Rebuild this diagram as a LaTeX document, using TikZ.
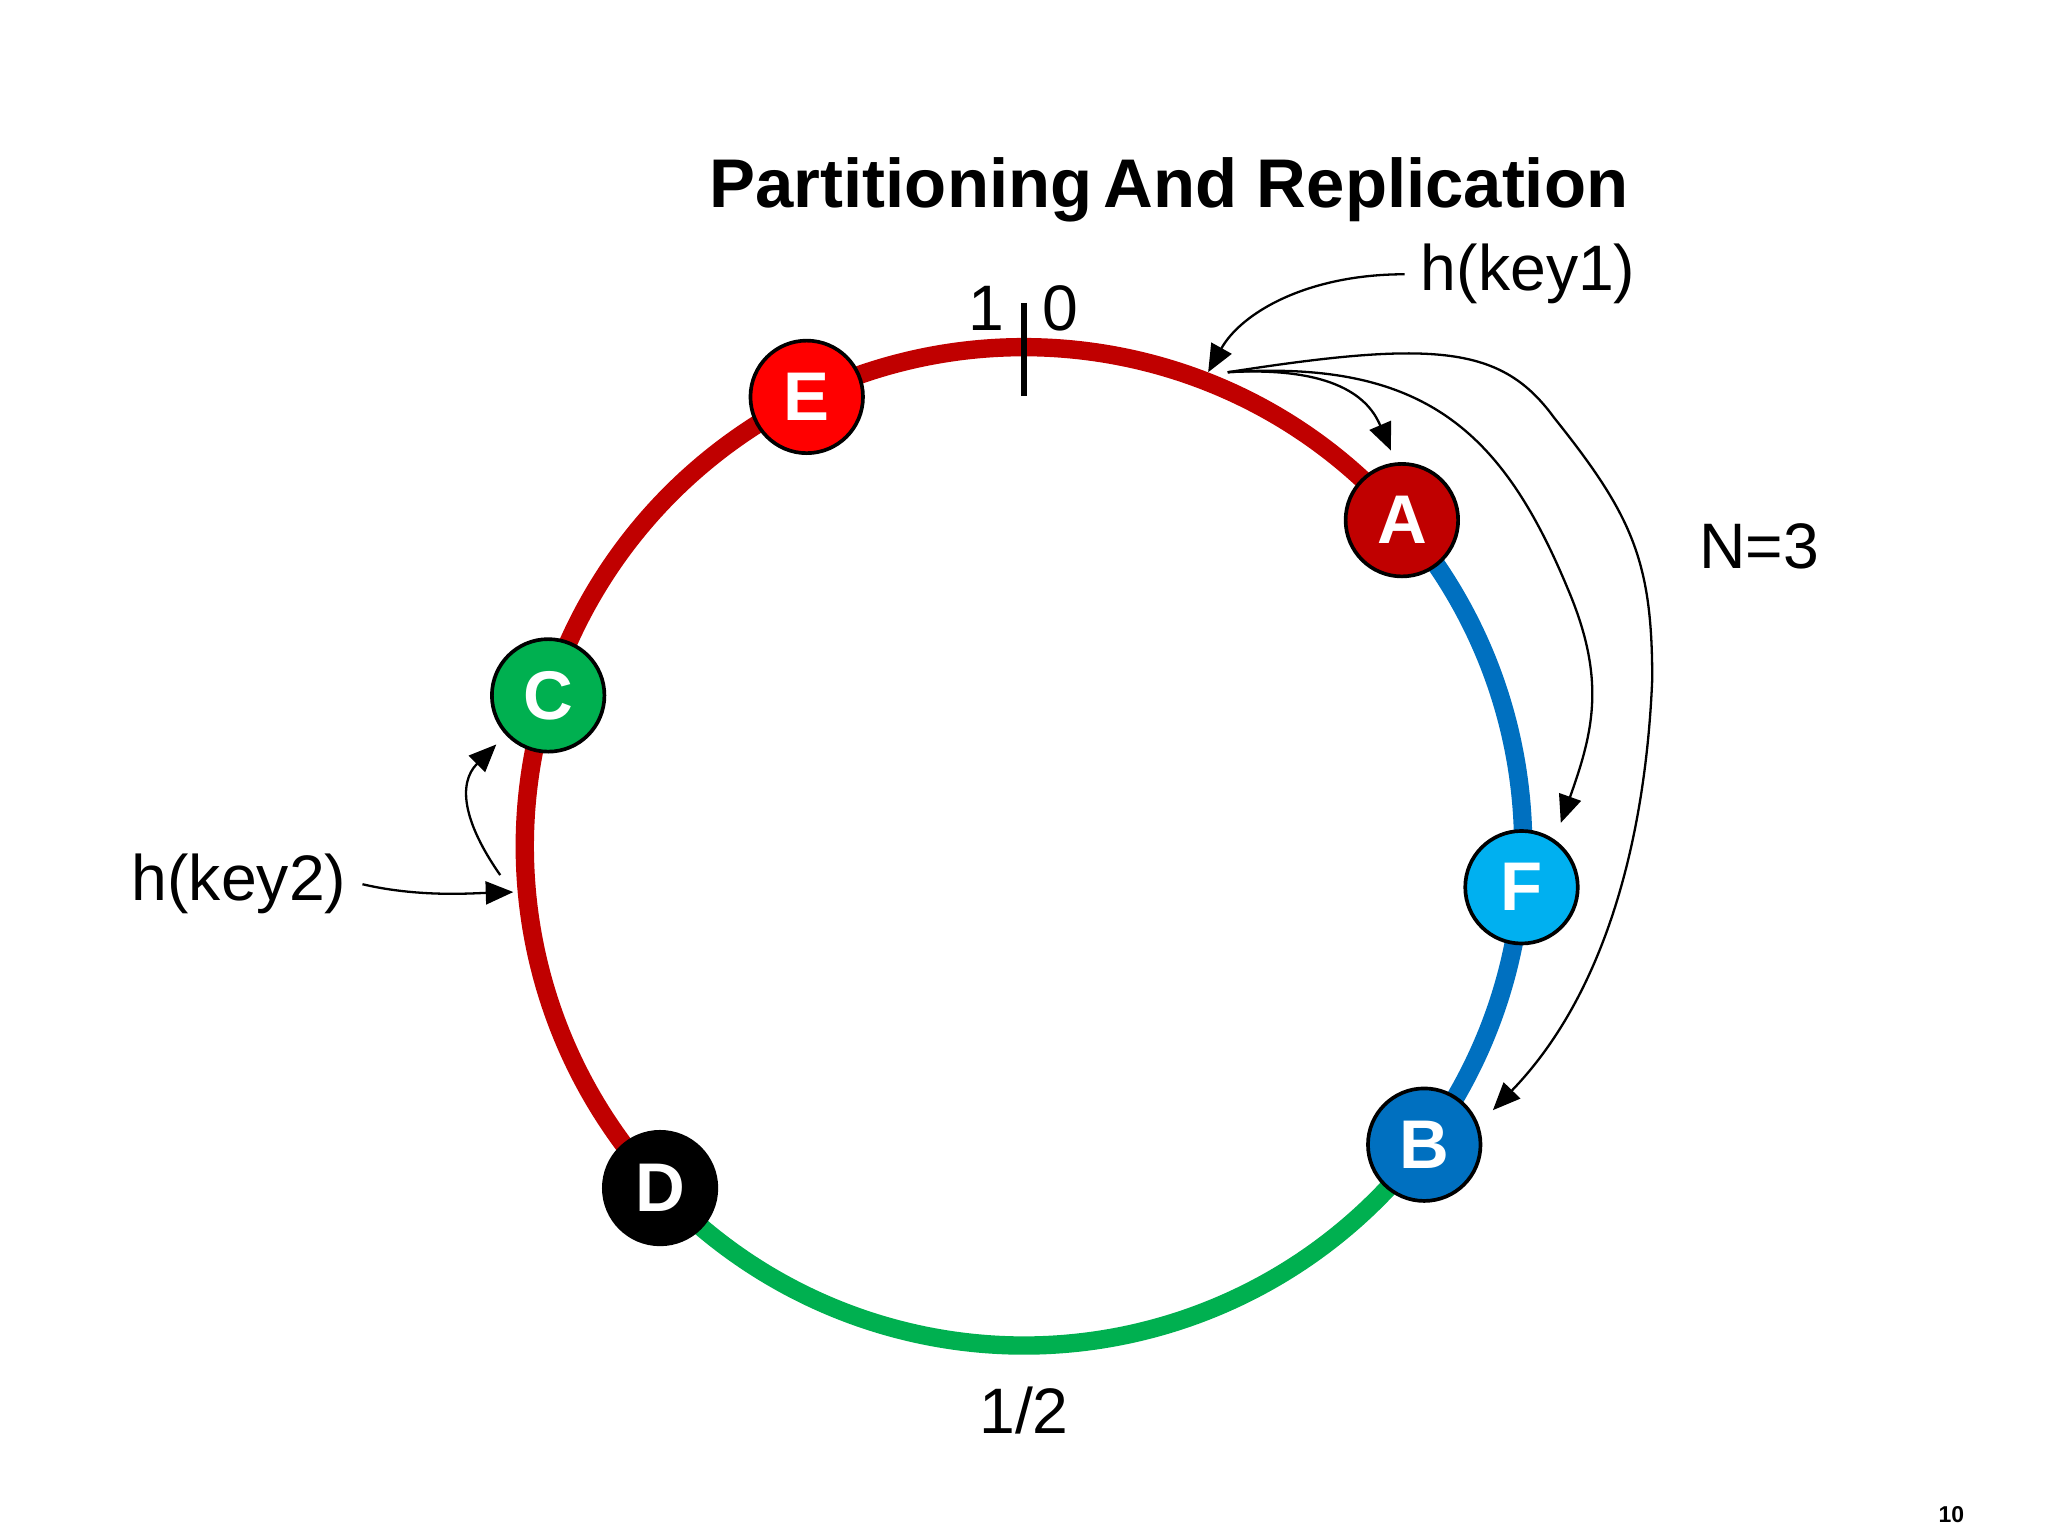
\documentclass[tikz,border=0pt]{standalone}
\usepackage{fontspec}
\setmainfont{Liberation Sans}
\usetikzlibrary{arrows.meta,calc}
\definecolor{ringred}{HTML}{C00000}
\definecolor{ringblue}{HTML}{0070C0}
\definecolor{ringgreen}{HTML}{00B050}
\definecolor{nodeE}{HTML}{FF0000}
\definecolor{nodeA}{HTML}{C00000}
\definecolor{nodeC}{HTML}{00B050}
\definecolor{nodeF}{HTML}{00B0F0}
\definecolor{nodeB}{HTML}{0070C0}
\tikzset{
  ring/.style={line width=4pt},
  server/.style={circle,draw=black,line width=0.8pt,minimum size=24.5pt,inner sep=0pt,text=white,font=\fontsize{15}{15}\bfseries},
  lbl/.style={font=\fontsize{14}{14}\selectfont},
  arr/.style={-{Triangle[length=6pt,width=5pt]},line width=0.5pt}
}
\begin{document}
\begin{tikzpicture}[x=0.01cm,y=-0.01cm]
\useasboundingbox (0,0) rectangle (1568,1174);
\coordinate (O) at (784,648);
\draw[ring,ringgreen] (O) ++(223.2:3.82cm) arc[start angle=223.2,end angle=323.3,radius=3.82cm];
\draw[ring,ringblue] (O) ++(-36.7:3.82cm) arc[start angle=-36.7,end angle=40.8,radius=3.82cm];
\draw[ring,ringred] (O) ++(40.8:3.82cm) arc[start angle=40.8,end angle=223.2,radius=3.82cm];
\draw[line width=1.2pt] (784,232) coordinate (t1) -- (784,303) coordinate (t2);
\node[server,fill=nodeE] (E) at ($(O)+(115.8:3.82cm)$) {E};
\node[server,fill=nodeA] (A) at ($(O)+(40.8:3.82cm)$) {A};
\node[server,fill=nodeC] (C) at ($(O)+(162.4:3.82cm)$) {C};
\node[server,fill=nodeF] (F) at ($(O)+(-4.7:3.82cm)$) {F};
\node[server,fill=nodeB] (B) at ($(O)+(-36.7:3.82cm)$) {B};
\node[server,fill=black] (D) at ($(O)+(223.2:3.82cm)$) {D};
\node[font=\fontsize{15}{15}\bfseries] (title) at (895,145) {Partitioning\,And Replication};
\node[lbl] (one) at (755,236) {1};
\node[lbl] (zero) at (812,236) {0};
\node[lbl] (half) at (784,1080) {1/2};
\node[lbl] (k1) at (1170,210) {h(key1)};
\node[lbl] (n3) at (1347,418) {N=3};
\node[lbl] (k2) at (183,677) {h(key2)};
\node[font=\fontsize{5}{5}\bfseries] (pg) at (1494,1160) {10};
\coordinate (src) at (940,285);
\coordinate (tA) at (1065,345);
\coordinate (tF) at (1195,630);
\coordinate (tB) at (1143,850);
\draw[arr] (k1.west) .. controls (1000,210) and (950,240) .. (925,285);
\draw[arr] (src) .. controls (1030,280) and (1050,310) .. (tA);
\draw[arr] (src) .. controls (1090,275) and (1150,330) .. (1200,450) .. controls (1230,520) and (1220,560) .. (tF);
\draw[arr] (src) .. controls (1100,260) and (1150,265) .. (1190,320) .. controls (1250,395) and (1265,430) .. (1265,520) .. controls (1260,640) and (1230,760) .. (tB);
\coordinate (k2a) at (393,683);
\coordinate (k2s) at (383,670);
\coordinate (k2b) at (380,570);
\draw[arr] (k2.east) .. controls (320,687) and (360,684) .. (k2a);
\draw[arr] (k2s) .. controls (355,630) and (350,600) .. (k2b);
\end{tikzpicture}
\end{document}
